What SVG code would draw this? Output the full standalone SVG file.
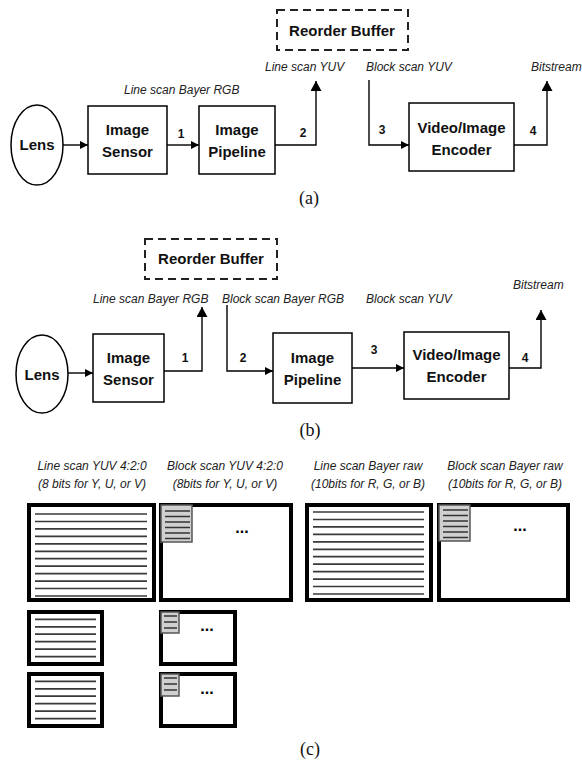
<svg xmlns="http://www.w3.org/2000/svg" width="582" height="762" viewBox="0 0 582 762">
<defs>
<style>
.box{fill:#fff;stroke:#000;stroke-width:1.5}
.lens{fill:#fff;stroke:#000;stroke-width:1.5}
.dash{fill:#fff;stroke:#222;stroke-width:2;stroke-dasharray:8 5}
.b{font-family:"Liberation Sans",Arial,sans-serif;font-weight:bold;font-size:15px;fill:#111;text-anchor:middle}
.n{font-family:"Liberation Sans",Arial,sans-serif;font-weight:bold;font-size:12px;fill:#111;text-anchor:middle}
.i{font-family:"Liberation Sans",Arial,sans-serif;font-style:italic;font-size:12px;fill:#222}
.ic{font-family:"Liberation Sans",Arial,sans-serif;font-style:italic;font-size:12px;fill:#222;text-anchor:middle}
.cap{font-family:"Liberation Serif","Times New Roman",serif;font-size:18px;fill:#111;text-anchor:middle}
.con{fill:none;stroke:#000;stroke-width:1.4}
.frame{fill:#fff;stroke:#000;stroke-width:4}
.gray{fill:#d0d0d0;stroke:#555;stroke-width:1.5}
.ln{stroke:#3a3a3a;stroke-width:1.7}
.gl{stroke:#333;stroke-width:1.4}
.dots{font-family:"Liberation Sans",Arial,sans-serif;font-weight:bold;font-size:16px;fill:#000;text-anchor:middle}
</style>
<marker id="ah" markerUnits="userSpaceOnUse" markerWidth="8" markerHeight="8" viewBox="0 0 8 8" refX="8" refY="4" orient="auto"><path d="M0,0 L8,4 L0,8 z" fill="#000"/></marker>
<marker id="ahb" markerUnits="userSpaceOnUse" markerWidth="10" markerHeight="11" viewBox="0 0 10 11" refX="10" refY="5.5" orient="auto"><path d="M0,0 L10,5.5 L0,11 z" fill="#000"/></marker>
</defs>
<rect width="582" height="762" fill="#fff"/>

<!-- (a) -->
<g id="a-buffer"><rect class="dash" x="277" y="10" width="131" height="40"/><text class="b" x="342" y="36">Reorder Buffer</text></g>
<g id="a-lens"><ellipse class="lens" cx="37" cy="145" rx="26" ry="40"/><text class="b" x="37" y="150">Lens</text></g>
<g id="a-sensor"><rect class="box" x="88" y="106" width="79" height="68"/><text class="b" x="127.5" y="135">Image</text><text class="b" x="127.5" y="157">Sensor</text></g>
<g id="a-pipeline"><rect class="box" x="199" y="106" width="76" height="68"/><text class="b" x="237" y="135">Image</text><text class="b" x="237" y="157">Pipeline</text></g>
<g id="a-encoder"><rect class="box" x="409" y="103" width="105" height="68"/><text class="b" x="461.5" y="133">Video/Image</text><text class="b" x="461.5" y="155">Encoder</text></g>
<g id="a-labels">
<text class="i" x="124" y="94">Line scan Bayer RGB</text>
<text class="i" x="265" y="71">Line scan YUV</text>
<text class="i" x="366" y="71">Block scan YUV</text>
<text class="i" x="531" y="71">Bitstream</text>
<text class="n" x="181" y="138">1</text>
<text class="n" x="303" y="137">2</text>
<text class="n" x="382" y="134">3</text>
<text class="n" x="533" y="135">4</text>
<text class="cap" x="309" y="204">(a)</text>
</g>
<g id="a-connectors">
<path class="con" d="M63,145 H88" marker-end="url(#ah)"/>
<path class="con" d="M167,145 H199" marker-end="url(#ah)"/>
<path class="con" d="M275,145 H316 V81" marker-end="url(#ahb)"/>
<path class="con" d="M369,80 V145 H409" marker-end="url(#ah)"/>
<path class="con" d="M514,145 H547 V81" marker-end="url(#ahb)"/>
</g>

<!-- (b) -->
<g id="b-buffer"><rect class="dash" x="145" y="239" width="132" height="40"/><text class="b" x="211" y="264">Reorder Buffer</text></g>
<g id="b-lens"><ellipse class="lens" cx="42" cy="374" rx="26" ry="39"/><text class="b" x="42" y="380">Lens</text></g>
<g id="b-sensor"><rect class="box" x="93" y="334" width="71" height="68"/><text class="b" x="128.5" y="363">Image</text><text class="b" x="128.5" y="385">Sensor</text></g>
<g id="b-pipeline"><rect class="box" x="273" y="333" width="79" height="70"/><text class="b" x="312.5" y="363">Image</text><text class="b" x="312.5" y="385">Pipeline</text></g>
<g id="b-encoder"><rect class="box" x="404" y="332" width="105" height="67"/><text class="b" x="456.5" y="360">Video/Image</text><text class="b" x="456.5" y="382">Encoder</text></g>
<g id="b-labels">
<text class="i" x="93" y="303">Line scan Bayer RGB</text>
<text class="i" x="222" y="303">Block scan Bayer RGB</text>
<text class="i" x="366" y="303">Block scan YUV</text>
<text class="i" x="513" y="289">Bitstream</text>
<text class="n" x="185" y="362">1</text>
<text class="n" x="243" y="362">2</text>
<text class="n" x="374" y="354">3</text>
<text class="n" x="525" y="362">4</text>
<text class="cap" x="310" y="436">(b)</text>
</g>
<g id="b-connectors">
<path class="con" d="M68,373 H93" marker-end="url(#ah)"/>
<path class="con" d="M164,371 H202 V307" marker-end="url(#ahb)"/>
<path class="con" d="M227,305 V371 H273" marker-end="url(#ah)"/>
<path class="con" d="M352,368 H404" marker-end="url(#ah)"/>
<path class="con" d="M509,368 H541 V310" marker-end="url(#ahb)"/>
</g>

<!-- (c) -->
<g id="c-labels">
<text class="ic" x="92" y="470">Line scan YUV 4:2:0</text>
<text class="ic" x="92" y="488">(8 bits for Y, U, or V)</text>
<text class="ic" x="225" y="470">Block scan YUV 4:2:0</text>
<text class="ic" x="225" y="488">(8bits for Y, U, or V)</text>
<text class="ic" x="368" y="470">Line scan Bayer raw</text>
<text class="ic" x="368" y="488">(10bits for R, G, or B)</text>
<text class="ic" x="505" y="470">Block scan Bayer raw</text>
<text class="ic" x="505" y="488">(10bits for R, G, or B)</text>
<text class="cap" x="310" y="755">(c)</text>
</g>
<g id="c-line-yuv">
<rect class="frame" x="29" y="505" width="125" height="95"/>
<path class="ln" d="M35,514H147M35,521.5H147M35,528.9H147M35,536.4H147M35,543.8H147M35,551.3H147M35,558.7H147M35,566.2H147M35,573.6H147M35,581.1H147M35,588.5H147M35,596H147"/>
</g>
<g id="c-block-yuv">
<rect class="frame" x="161" y="505" width="130" height="95"/>
<rect class="gray" x="161" y="505" width="31" height="37"/>
<path class="gl" d="M165,511H190M165,516.5H190M165,522H190M165,527.5H190M165,533H190M165,538.5H190"/>
<text class="dots" x="242" y="533">...</text>
</g>
<g id="c-line-bayer">
<rect class="frame" x="307" y="505" width="124" height="95"/>
<path class="ln" d="M313,512H424M313,519.5H424M313,526.9H424M313,534.4H424M313,541.8H424M313,549.3H424M313,556.7H424M313,564.2H424M313,571.6H424M313,579.1H424M313,586.5H424M313,594H424"/>
</g>
<g id="c-block-bayer">
<rect class="frame" x="439" y="505" width="129" height="95"/>
<rect class="gray" x="439" y="505" width="31" height="36"/>
<path class="gl" d="M443,510H468M443,515.5H468M443,521H468M443,526.5H468M443,532H468M443,537.5H468"/>
<text class="dots" x="520" y="531">...</text>
</g>
<g id="c-small-line-1">
<rect class="frame" x="29" y="612" width="73" height="52"/>
<path class="ln" d="M35,619.3H96M35,626.8H96M35,634.2H96M35,641.7H96M35,649.2H96M35,656.7H96"/>
</g>
<g id="c-small-line-2">
<rect class="frame" x="29" y="674" width="73" height="52"/>
<path class="ln" d="M35,681.3H96M35,688.8H96M35,696.2H96M35,703.7H96M35,711.2H96M35,718.7H96"/>
</g>
<g id="c-small-block-1">
<rect class="frame" x="161" y="612" width="74" height="52"/>
<rect class="gray" x="161" y="612" width="18" height="21"/>
<path class="gl" d="M164,616H177M164,622H177M164,628H177"/>
<text class="dots" x="207" y="631">...</text>
</g>
<g id="c-small-block-2">
<rect class="frame" x="161" y="674" width="74" height="52"/>
<rect class="gray" x="161" y="674" width="18" height="22"/>
<path class="gl" d="M164,678H177M164,684H177M164,690H177"/>
<text class="dots" x="207" y="694">...</text>
</g>
</svg>
